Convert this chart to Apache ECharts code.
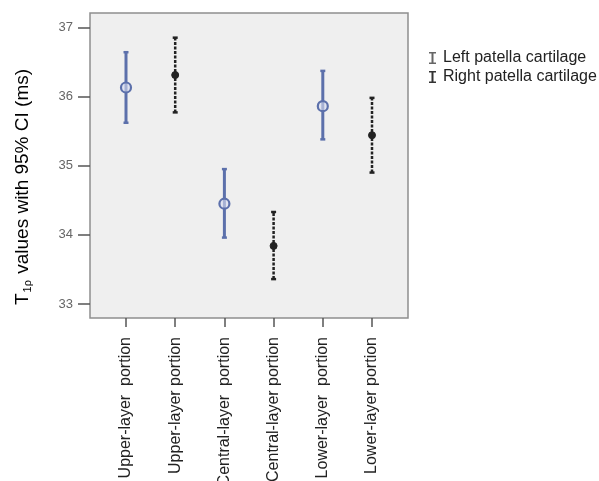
<!DOCTYPE html>
<html>
<head>
<meta charset="utf-8">
<script src="https://cdn.jsdelivr.net/npm/echarts@6/dist/echarts.min.js"></script>
<style>html,body{margin:0;padding:0;background:#fff;}#c{width:599px;height:481px;}</style>
</head>
<body>
<div id="c"></div>
<script>
const categories = ['Upper-layer  portion','Upper-layer portion','Central-layer  portion','Central-layer portion','Lower-layer  portion','Lower-layer portion'];
const groups = ['Left patella cartilage','Right patella cartilage','Left patella cartilage','Right patella cartilage','Left patella cartilage','Right patella cartilage'];
const means = [36.13, 36.31, 34.45, 33.84, 35.86, 35.44];
const lows  = [35.62, 35.77, 33.96, 33.36, 35.38, 34.90];
const highs = [36.64, 36.85, 34.95, 34.33, 36.37, 35.98];
const yTicks = [33, 34, 35, 36, 37];
const seriesNames = ['Left patella cartilage','Right patella cartilage'];

const FONT = '"Liberation Sans", Arial, sans-serif';
const BLUE = '#5c70ab';
const BLACK = '#222';

function dataFor(name){
  const out = [];
  categories.forEach((c,i)=>{ if(groups[i]===name) out.push([i, lows[i], highs[i], means[i]]); });
  return out;
}

function makeRender(isLeft){
  return function(params, api){
    const x = api.value(0);
    const pLo = api.coord([x, api.value(1)]);
    const pHi = api.coord([x, api.value(2)]);
    const pM = api.coord([x, api.value(3)]);
    const color = isLeft ? BLUE : BLACK;
    const cw = 2.5;
    const children = [
      {type:'line', shape:{x1:pLo[0], y1:pLo[1], x2:pHi[0], y2:pHi[1]},
       style:{stroke:color, lineWidth:isLeft?3:2.5, lineDash:isLeft?null:[3,1.5]}},
      {type:'line', shape:{x1:pHi[0]-cw, y1:pHi[1], x2:pHi[0]+cw, y2:pHi[1]}, style:{stroke:color, lineWidth:2.5}},
      {type:'line', shape:{x1:pLo[0]-cw, y1:pLo[1], x2:pLo[0]+cw, y2:pLo[1]}, style:{stroke:color, lineWidth:2.5}}
    ];
    if(isLeft){
      children.push({type:'circle', shape:{cx:pM[0], cy:pM[1], r:5}, style:{fill:'rgba(215,220,240,0.6)', stroke:color, lineWidth:2.2}});
    } else {
      children.push({type:'circle', shape:{cx:pM[0], cy:pM[1], r:3.5}, style:{fill:BLACK, stroke:BLACK, lineWidth:1}});
    }
    return {type:'group', children};
  };
}

const chart = echarts.init(document.getElementById('c'), null, {renderer:'canvas'});
const ibeam = 'path://M0,0 H7 V1.5 H4.5 V10.5 H7 V12 H0 V10.5 H2.5 V1.5 H0 Z';
chart.setOption({
  animation:false,
  backgroundColor:'#fff',
  textStyle:{fontFamily:FONT},
  grid:[
    {left:90, top:13, width:318, height:305, show:true, backgroundColor:'#efefef', borderColor:'#8f8f8f', borderWidth:1.5, containLabel:false, outerBoundsMode:'none'},
    {left:126, top:27.3, width:246, height:276.7, containLabel:false, outerBoundsMode:'none'}
  ],
  xAxis:[
    {gridIndex:0, type:'value', show:false, min:0, max:1},
    {gridIndex:1, type:'category', data:categories, boundaryGap:false, offset:14,
     axisLine:{show:false}, axisTick:{show:true, length:9, lineStyle:{color:'#555', width:1.5}},
     axisLabel:{rotate:90, margin:19, fontSize:16, color:'#222', fontFamily:FONT, interval:0}}
  ],
  yAxis:[
    {gridIndex:0, type:'value', show:false, min:0, max:1},
    {gridIndex:1, type:'value', min:yTicks[0], max:yTicks[yTicks.length-1], interval:1, offset:36,
     axisLine:{show:false}, splitLine:{show:false},
     axisTick:{show:true, length:12, lineStyle:{color:'#555', width:1.5}},
     axisLabel:{margin:17, fontSize:13, color:'#666', fontFamily:FONT}}
  ],
  legend:{
    orient:'vertical', left:424, top:45, itemGap:3, itemWidth:7, itemHeight:13,
    textStyle:{fontSize:16, color:'#222', fontFamily:FONT, padding:[0,0,0,2]},
    data:[{name:seriesNames[0], icon:ibeam, itemStyle:{color:'#666'}},
          {name:seriesNames[1], icon:ibeam, itemStyle:{color:'#333'}}]
  },
  graphic:[{
    type:'text', x:23, y:187, rotation:Math.PI/2,
    style:{text:'{a|T}{s|1ρ}{a| values with 95% CI (ms)}', align:'center', verticalAlign:'middle',
      rich:{a:{fontSize:19, fontFamily:FONT, color:'#222'}, s:{fontSize:11, fontFamily:FONT, color:'#222', verticalAlign:'bottom', padding:[10,1,0,1]}}}
  }],
  series:[
    {name:seriesNames[0], type:'custom', xAxisIndex:1, yAxisIndex:1, renderItem:makeRender(true),
     itemStyle:{color:BLUE}, encode:{x:0, y:[1,2,3]}, data:dataFor(seriesNames[0])},
    {name:seriesNames[1], type:'custom', xAxisIndex:1, yAxisIndex:1, renderItem:makeRender(false),
     itemStyle:{color:BLACK}, encode:{x:0, y:[1,2,3]}, data:dataFor(seriesNames[1])}
  ]
});
</script>
</body>
</html>
